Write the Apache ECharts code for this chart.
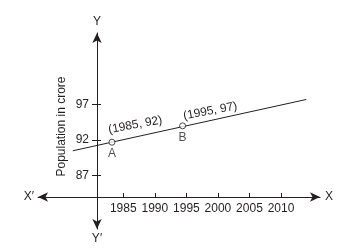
<!DOCTYPE html>
<html>
<head>
<meta charset="utf-8">
<script src="https://cdn.jsdelivr.net/npm/echarts@6/dist/echarts.min.js"></script>
<style>
  html, body { margin: 0; padding: 0; background: #fff; }
  #chart { width: 339px; height: 248px; }
</style>
</head>
<body>
<div id="chart"></div>
<script>
// tick labels
const xTicks = [1985, 1990, 1995, 2000, 2005, 2010]
const yTicks = [87, 92, 97]

// the straight line (drawn ends)
const lineX = [1977.0, 2014.0]
const lineY = [90.5, 97.7]

// marked points A and B (where they are drawn) and their written coordinates
const pointNames = ['A', 'B']
const pointX = [1983.2, 1994.4]
const pointY = [91.7, 94.0]
const pointText = ['(1985, 92)', '(1995, 97)']

const INK = '#231f20'
const FONT = 'Liberation Sans, Arial, sans-serif'

// axis ranges so the origin sits where the picture puts it
const X_MIN = 1971.48, X_MAX = 2016.18
const Y_MIN = 79.51, Y_MAX = 107.04

const chart = echarts.init(document.getElementById('chart'))

const baseX = {
  type: 'value', min: X_MIN, max: X_MAX, position: 'bottom', offset: -32,
  splitLine: { show: false },
}
const baseY = {
  type: 'value', min: Y_MIN, max: Y_MAX, position: 'left', offset: -59,
  splitLine: { show: false },
}
const nameStyle = { color: INK, fontSize: 12, fontFamily: FONT }

chart.setOption({
  animation: false,
  grid: { left: 38, right: 19, top: 33, bottom: 19 },
  textStyle: { fontFamily: FONT },
  xAxis: [
    {
      ...baseX,
      name: 'X', nameLocation: 'end', nameGap: 5, nameTextStyle: nameStyle,
      axisLine: { onZero: false, symbol: ['arrow', 'arrow'], symbolSize: [7, 10], lineStyle: { color: INK, width: 1 } },
      axisTick: { inside: true, length: 4, customValues: xTicks, lineStyle: { color: INK } },
      axisLabel: { customValues: xTicks, margin: 6, color: INK, fontSize: 12, fontFamily: FONT, formatter: (v) => String(v) },
    },
    {
      ...baseX,
      name: 'X\u2032', nameLocation: 'start', nameGap: 4, nameTextStyle: nameStyle,
      axisLine: { show: false, onZero: false },
      axisTick: { show: false },
      axisLabel: { show: false },
    },
  ],
  yAxis: [
    {
      ...baseY,
      name: 'Y', nameLocation: 'end', nameGap: 5, nameTextStyle: nameStyle,
      axisLine: { show: true, onZero: false, symbol: ['arrow', 'arrow'], symbolSize: [7, 10], lineStyle: { color: INK, width: 1 } },
      axisTick: { show: true, length: 5, customValues: yTicks, lineStyle: { color: INK } },
      axisLabel: { customValues: yTicks, margin: 8, color: INK, fontSize: 12, fontFamily: FONT },
    },
    {
      ...baseY,
      name: 'Y\u2032', nameLocation: 'start', nameGap: 4, nameTextStyle: nameStyle,
      axisLine: { show: false, onZero: false },
      axisTick: { show: true, inside: true, length: 4, customValues: yTicks, lineStyle: { color: INK } },
      axisLabel: { show: false },
    },
  ],
  series: [
    {
      type: 'line',
      data: lineX.map((x, i) => [x, lineY[i]]),
      showSymbol: false,
      lineStyle: { color: INK, width: 1 },
      z: 2,
    },
    {
      type: 'scatter',
      symbol: 'circle',
      symbolSize: 6,
      data: pointX.map((x, i) => ({ value: [x, pointY[i]], name: pointNames[i] })),
      itemStyle: { color: '#fff', borderColor: INK, borderWidth: 1 },
      label: {
        show: true, position: 'bottom', distance: 2, color: INK, fontSize: 12, fontFamily: FONT,
        formatter: '{b}',
      },
      z: 4,
    },
  ],
})

// coordinate captions, tilted along the line, placed from the points' pixel positions
const captionShift = [[23.3, -17.3], [27.6, -14.7]]
const captions = pointX.map((x, i) => {
  const [px, py] = chart.convertToPixel({ xAxisIndex: 0, yAxisIndex: 0 }, [x, pointY[i]])
  return {
    type: 'text',
    x: px + captionShift[i][0],
    y: py + captionShift[i][1],
    rotation: (i === 0 ? 10.5 : 11) * Math.PI / 180,
    style: { text: pointText[i], fill: INK, font: '12px ' + FONT, align: 'center', verticalAlign: 'middle' },
  }
})

chart.setOption({
  graphic: [
    {
      type: 'text', x: 62, y: 126.5, rotation: Math.PI / 2,
      style: { text: 'Population in crore', fill: INK, font: '12px ' + FONT, align: 'center', verticalAlign: 'middle' },
    },
    ...captions,
  ],
})
</script>
</body>
</html>
